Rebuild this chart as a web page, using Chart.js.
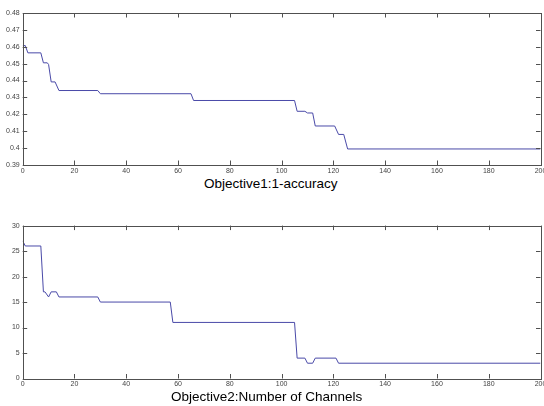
<!DOCTYPE html>
<html>
<head>
<meta charset="utf-8">
<script src="https://cdn.jsdelivr.net/npm/chart.js@4.4.0/dist/chart.umd.min.js"></script>
<style>
  html, body { margin: 0; padding: 0; background: #fff; overflow: hidden; }
  #wrap { position: relative; width: 544px; height: 406px; }
  #topChart { position: absolute; left: 0; top: 0; }
  #bottomChart { position: absolute; left: 0; top: 200px; }
  .caption {
    position: absolute;
    font-family: Arial, "Liberation Sans", sans-serif;
    font-size: 13.5px;
    line-height: 14px;
    color: #000;
    white-space: nowrap;
  }
  #cap1 { left: 204px; top: 176.5px; }
  #cap2 { left: 171px; top: 390px; }
</style>
</head>
<body>
<div id="wrap">
  <canvas id="topChart" width="544" height="176"></canvas>
  <canvas id="bottomChart" width="544" height="192"></canvas>
  <div class="caption" id="cap1">Objective1:1-accuracy</div>
  <div class="caption" id="cap2">Objective2:Number of Channels</div>
</div>
<script>
// --- Data ---
// Objective 1 (1 - accuracy) vs generation
const genTop = [0, 1, 2, 7, 8, 9.5, 10, 11, 12.5, 14, 29, 30, 65, 66, 105, 106, 109, 110, 112, 113, 120.5, 122, 124, 125.5, 200];
const errTop = [0.4607, 0.4607, 0.4564, 0.4564, 0.4505, 0.4505, 0.4495, 0.4392, 0.4392, 0.4341, 0.4341, 0.4322, 0.4322, 0.4282, 0.4282, 0.4218, 0.4218, 0.4208, 0.4208, 0.4131, 0.4131, 0.4081, 0.4081, 0.3995, 0.3995];

// Objective 2 (number of channels) vs generation
const genBottom = [0, 1, 7, 8, 8.6, 10, 11, 13, 14, 29, 30, 57, 58, 105, 106, 109, 110, 112, 113, 121, 122, 200];
const channels = [27, 26, 26, 17, 17, 16, 17, 17, 16, 16, 15, 15, 11, 11, 4, 4, 3, 3, 4, 4, 3, 3];

// tick settings
const xTicks = { min: 0, max: 200, step: 20 };
const yTicksTop = { min: 0.39, max: 0.48, step: 0.01 };
const yTicksBottom = { min: 0, max: 30, step: 5 };

const lineColor = '#4a4aa8';
const axisColor = '#505050';
const tickFont = { family: 'Arial, "Liberation Sans", sans-serif', size: 7, lineHeight: 1.2 };

// MATLAB-style box with inward ticks on all four sides
const boxTicks = {
    id: 'boxTicks',
    afterDraw(chart) {
        const { ctx, chartArea: a, scales: { x, y } } = chart;
        const len = 4.5;
        ctx.save();
        ctx.strokeStyle = axisColor;
        ctx.lineWidth = 1;
        ctx.beginPath();
        x.ticks.forEach(t => {
            const px = Math.round(x.getPixelForValue(t.value)) + 0.5;
            ctx.moveTo(px, a.bottom); ctx.lineTo(px, a.bottom - len);
            ctx.moveTo(px, a.top); ctx.lineTo(px, a.top + len);
        });
        y.ticks.forEach(t => {
            const py = Math.round(y.getPixelForValue(t.value)) + 0.5;
            ctx.moveTo(a.left, py); ctx.lineTo(a.left + len, py);
            ctx.moveTo(a.right, py); ctx.lineTo(a.right - len, py);
        });
        ctx.stroke();
        ctx.strokeRect(Math.round(a.left) + 0.5, Math.round(a.top) + 0.5,
            Math.round(a.right - a.left), Math.round(a.bottom - a.top));
        ctx.restore();
    }
};

const makeChart = (canvasId, xs, ys, yT, pad, xHeight, yFmt) => {
    const ctx = document.getElementById(canvasId).getContext('2d');
    return new Chart(ctx, {
        type: 'line',
        data: {
            datasets: [{
                data: xs.map((g, i) => ({ x: g, y: ys[i] })),
                borderColor: lineColor,
                borderWidth: 1,
                pointRadius: 0,
                tension: 0,
                fill: false
            }]
        },
        options: {
            responsive: false,
            devicePixelRatio: 1,
            animation: false,
            layout: { padding: pad },
            plugins: { legend: { display: false }, tooltip: { enabled: false } },
            scales: {
                x: {
                    type: 'linear',
                    min: xTicks.min,
                    max: xTicks.max,
                    grid: { display: false, drawTicks: false, tickLength: 0 },
                    border: { display: false },
                    ticks: {
                        stepSize: xTicks.step,
                        autoSkip: false,
                        maxRotation: 0,
                        padding: 1.5,
                        color: '#444',
                        font: tickFont
                    },
                    afterFit: (s) => {
                        s.height = xHeight;
                        s.paddingLeft = 0;
                        s.paddingRight = 0;
                    }
                },
                y: {
                    min: yT.min,
                    max: yT.max,
                    grid: { display: false, drawTicks: false, tickLength: 0 },
                    border: { display: false },
                    ticks: {
                        stepSize: yT.step,
                        autoSkip: false,
                        padding: 3,
                        color: '#444',
                        font: tickFont,
                        callback: yFmt
                    },
                    afterFit: (s) => { s.width = 22.7; }
                }
            }
        },
        plugins: [boxTicks]
    });
};

makeChart('topChart', genTop, errTop, yTicksTop,
    { top: 13, right: 3.5, left: 0, bottom: 0 }, 11, v => String(+v.toFixed(2)));
makeChart('bottomChart', genBottom, channels, yTicksBottom,
    { top: 25.6, right: 3.5, left: 0, bottom: 0 }, 13.5, v => String(v));
</script>
</body>
</html>
